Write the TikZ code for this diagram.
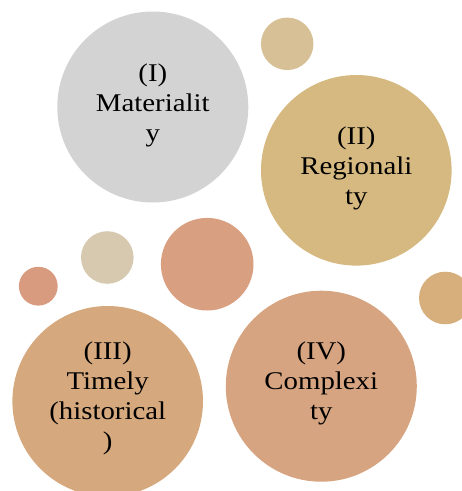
\documentclass[tikz,border=0pt]{standalone}
\usepackage{fontspec}
\setmainfont{Liberation Serif}[FakeStretch=1.13]
\definecolor{cgray}{HTML}{D3D3D3}
\definecolor{ctanA}{HTML}{D7C096}
\definecolor{ctanB}{HTML}{D6B980}
\definecolor{cbeige}{HTML}{D6C9B0}
\definecolor{csalA}{HTML}{D99F81}
\definecolor{csalB}{HTML}{D99B80}
\definecolor{ctanC}{HTML}{D6AF7C}
\definecolor{cpeach}{HTML}{D6A87E}
\definecolor{cpeachB}{HTML}{D6A480}
\tikzset{
  bubble/.style={circle, inner sep=0pt, outer sep=0pt, minimum size=#1},
  lbl/.style={align=center, font=\fontsize{25.5pt}{30pt}\selectfont, text=black}
}
\begin{document}
\begin{tikzpicture}[x=1pt,y=-1pt]
\useasboundingbox (0,0) rectangle (462,491);
\clip (0,0) rectangle (462,491);
\node[bubble=191pt, fill=cgray] (c1) at (152.8,107) {};
\node[bubble=52.5pt, fill=ctanA] (s1) at (287.2,43.8) {};
\node[bubble=190.6pt, fill=ctanB] (c2) at (356.3,170.3) {};
\node[bubble=52.6pt, fill=cbeige] (s2) at (107.3,257.5) {};
\node[bubble=92.6pt, fill=csalA] (s3) at (207.2,264.2) {};
\node[bubble=38.8pt, fill=csalB] (s4) at (38.3,286.2) {};
\node[bubble=52.6pt, fill=ctanC] (s5) at (445.3,298) {};
\node[bubble=190.6pt, fill=cpeach] (c3) at (107.7,401.3) {};
\node[bubble=191pt, fill=cpeachB] (c4) at (321.3,386.2) {};
\node[lbl] (t1) at (152.8,105) {(I)\\Materialit\\y};
\node[lbl] (t2) at (356.3,168) {(II)\\Regionali\\ty};
\node[lbl] (t3) at (107.7,398) {(III)\\Timely\\(historical\\)};
\node[lbl] (t4) at (321.3,383) {(IV)\\Complexi\\ty};
\end{tikzpicture}
\end{document}
